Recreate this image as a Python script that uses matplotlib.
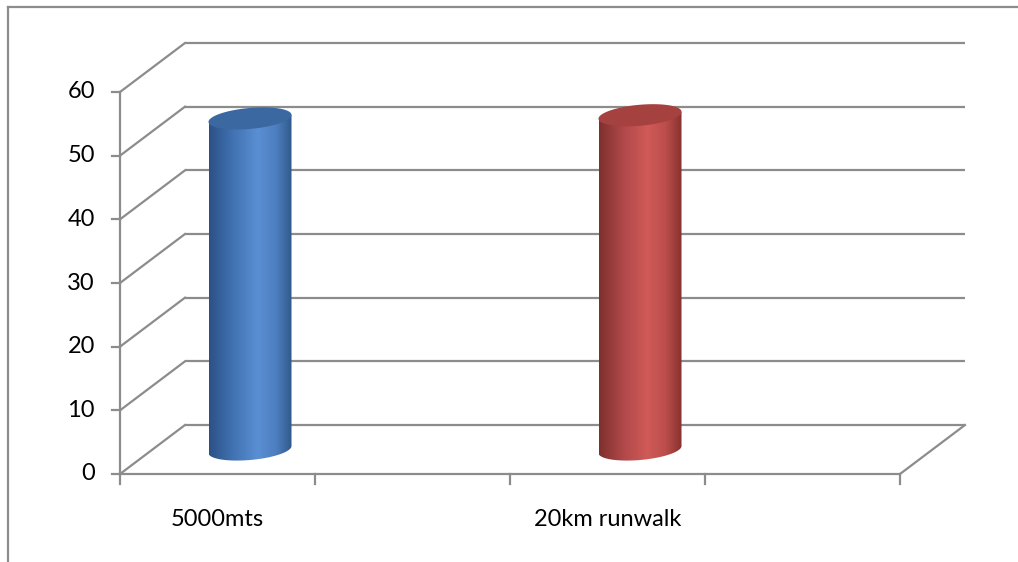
import numpy as np
import matplotlib
matplotlib.use("Agg")
import matplotlib.pyplot as plt
from matplotlib.patches import Polygon
from matplotlib.colors import LinearSegmentedColormap
import matplotlib.transforms as mtransforms

# ---- data ----
categories = ["5000mts", "", "20km runwalk", ""]
values = [52.0, np.nan, 52.5, np.nan]
y_ticks = [0, 10, 20, 30, 40, 50, 60]

# ---- styling ----
grid_color = "#8c8c8c"
grid_lw = 1.6
font = ["Lato", "DejaVu Sans"]
label_size = 17
bar_styles = {
    0: dict(stops=["#2c5186", "#4274b4", "#5a8fd3", "#4d7fc0", "#2f5688"],
            top="#3c68a1"),
    2: dict(stops=["#7e302e", "#b2494a", "#d05a58", "#bb4d4b", "#83302e"],
            top="#a5413f"),
}

W, H, DPI = 1018, 562, 100
fig = plt.figure(figsize=(W / DPI, H / DPI), dpi=DPI)
ax = fig.add_axes([0, 0, 1, 1])

# pixel layout of the plot box
x0_px, cat_px = 120, 195          # left of category axis, width of a category
y0_px, top_px = 474, 92           # value 0 and value 60
ymax = 60
px_per_val = (y0_px - top_px) / ymax
ax.set_xlim((0 - x0_px) / cat_px, (W - x0_px) / cat_px)
ax.set_ylim((y0_px - H) / px_per_val, y0_px / px_per_val)
ax.axis("off")

# oblique depth offset in data units
dx = 65 / cat_px
dy = 49 / px_per_val
ncat = len(categories)

# ---- walls and gridlines ----
for v in y_ticks:
    ax.plot([dx, ncat + dx], [v + dy, v + dy], color=grid_color, lw=grid_lw,
            solid_capstyle="butt", zorder=1)
    ax.plot([0, dx], [v, v + dy], color=grid_color, lw=grid_lw, zorder=1)
# floor front edge and right edge
ax.plot([0, ncat], [0, 0], color=grid_color, lw=grid_lw, zorder=1)
ax.plot([ncat, ncat + dx], [0, dy], color=grid_color, lw=grid_lw, zorder=1)
# value axis
ax.plot([0, 0], [0, ymax], color=grid_color, lw=grid_lw, zorder=1)
ytick_len = 8 / cat_px
for v in y_ticks:
    ax.plot([-ytick_len, 0], [v, v], color=grid_color, lw=grid_lw, zorder=1)
xtick_len = 10 / px_per_val
for i in range(ncat + 1):
    ax.plot([i, i], [0, -xtick_len], color=grid_color, lw=grid_lw, zorder=1)

# ---- labels ----
ylab_tr = mtransforms.offset_copy(ax.transData, fig, x=-25, y=0, units="dots")
for v in y_ticks:
    ax.text(0, v, str(v), transform=ylab_tr, ha="right", va="center",
            fontsize=label_size, family=font, color="#000000")
xlab_tr = mtransforms.offset_copy(ax.transData, fig, x=0, y=-46, units="dots")
for i, lab in enumerate(categories):
    if lab:
        ax.text(i + 0.5, 0, lab, transform=xlab_tr, ha="center", va="center",
                fontsize=label_size, family=font, color="#000000")

# ---- cylinders ----
a = 41.5 / cat_px          # horizontal radius
b = 10.5 / px_per_val      # vertical radius of the ellipse
shear = 3.5 / px_per_val   # slight perspective tilt of the ellipses
t = np.linspace(0, 2 * np.pi, 200)


def ellipse_pts(cx, cy, t):
    return np.column_stack([cx + a * np.cos(t), cy + b * np.sin(t) + shear * np.cos(t)])


for i, val in enumerate(values):
    if np.isnan(val):
        continue
    st = bar_styles[i]
    cx = i + 0.5 + dx / 2
    base = dy / 2
    top = base + val

    # body outline: sides plus front half of the bottom ellipse
    bottom = ellipse_pts(cx, base, np.linspace(np.pi, 2 * np.pi, 100))
    body = np.vstack([[cx - a, top - shear], bottom, [cx + a, top + shear]])
    body_patch = Polygon(body, closed=True, facecolor="none", edgecolor="none")
    ax.add_patch(body_patch)

    cmap = LinearSegmentedColormap.from_list(
        f"cyl{i}", list(zip([0, 0.3, 0.58, 0.8, 1.0], st["stops"])))
    grad = np.linspace(0, 1, 256)[None, :]
    im = ax.imshow(grad, cmap=cmap, aspect="auto", interpolation="bicubic",
                   extent=[cx - a, cx + a, base - b - shear, top + shear], zorder=3)
    im.set_clip_path(body_patch)

    # top cap
    cap = Polygon(ellipse_pts(cx, top, t), closed=True, facecolor=st["top"],
                  edgecolor="none", zorder=4)
    ax.add_patch(cap)

# ---- outer chart border ----
fig.add_artist(plt.Line2D([8 / W, 8 / W], [0, 1 - 7 / H], transform=fig.transFigure,
                          color=grid_color, lw=1.6))
fig.add_artist(plt.Line2D([8 / W, 1], [1 - 7 / H, 1 - 7 / H], transform=fig.transFigure,
                          color=grid_color, lw=1.6))

fig.savefig("out.png", dpi=DPI, facecolor="white")
